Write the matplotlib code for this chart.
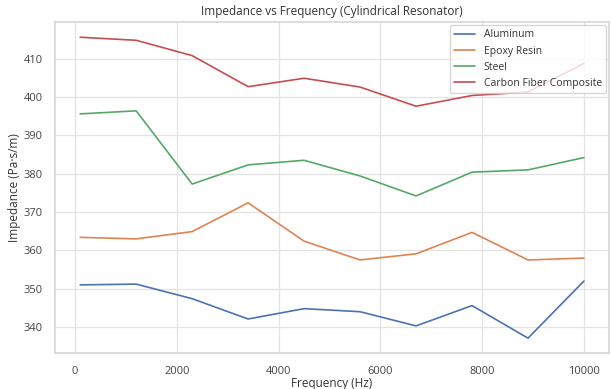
import matplotlib
matplotlib.use("Agg")
import matplotlib.pyplot as plt
import seaborn as sns

freq = [100, 1200, 2300, 3400, 4500, 5600, 6700, 7800, 8900, 10000]
aluminum = [351.0, 351.2, 347.4, 342.1, 344.8, 344.0, 340.3, 345.6, 337.1, 352.0]
epoxy = [363.4, 363.0, 364.9, 372.4, 362.4, 357.5, 359.1, 364.7, 357.5, 358.0]
steel = [395.6, 396.4, 377.3, 382.3, 383.5, 379.4, 374.2, 380.4, 381.0, 384.2]
carbon = [415.6, 414.8, 410.8, 402.7, 404.9, 402.6, 397.6, 400.4, 401.3, 408.8]
series = {"Aluminum": aluminum, "Epoxy Resin": epoxy, "Steel": steel,
          "Carbon Fiber Composite": carbon}

sns.set_theme(style="whitegrid", palette="deep")
plt.rcParams['font.family'] = ['Open Sans', 'DejaVu Sans']
plt.rcParams['grid.color'] = '#e3e3e3'
plt.rcParams['grid.linewidth'] = 0.9
plt.rcParams['axes.edgecolor'] = '#d8d8d8'

fig = plt.figure(figsize=(6.11, 3.89), dpi=100)
ax = fig.add_axes([0.090, 0.092, 0.907, 0.851])
for name, vals in series.items():
    ax.plot(freq, vals, label=name, linewidth=1.2)
ax.set_title("Impedance vs Frequency (Cylindrical Resonator)", fontsize=8.5, pad=5,
             color='#333333')
ax.set_xlabel("Frequency (Hz)", fontsize=8.5, labelpad=0, color='#333333')
ax.set_ylabel("Impedance (Pa·s/m)", fontsize=8.5, labelpad=1, color='#333333')
ax.tick_params(axis='y', labelsize=8, pad=3, labelcolor='#444444')
ax.tick_params(axis='x', labelsize=8, pad=3, labelcolor='#444444')
ax.set_yticks([340, 350, 360, 370, 380, 390, 400, 410])
ax.yaxis.set_label_coords(-0.062, 0.5)
leg = ax.legend(loc="upper right", fontsize=7.5, borderaxespad=0.3)
for t in leg.get_texts():
    t.set_color('#333333')
fig.savefig("out.png", dpi=100)
